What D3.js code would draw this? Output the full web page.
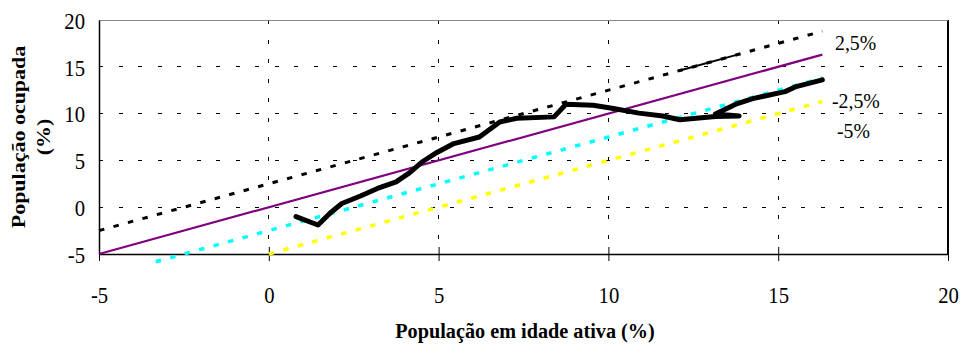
<!DOCTYPE html>
<html>
<head>
<meta charset="utf-8">
<script src="https://cdn.jsdelivr.net/npm/d3@7"></script>
<style>
  html, body { margin: 0; padding: 0; background: #fff; }
  svg { display: block; }
</style>
</head>
<body>
<svg id="chart" width="962" height="344"></svg>
<script>
// ---- Data ----
const xTicks = [-5, 0, 5, 10, 15, 20];
const yTicks = [-5, 0, 5, 10, 15, 20];

// Reference lines y = x + offset
const refLabels  = ["2,5%", "0%", "-2,5%", "-5%"];
const refOffsets = [2.5, 0, -2.5, -5];
const refStartX  = [-5, -5, -3.33, 0];
const refEndX    = [16.3, 16.3, 16.3, 16.3];
const refShowLabel = [true, false, true, true];

// Denser stretch on the 2,5% line
const denseStretchX = [12.1, 13.8];

// Observed path (população em idade ativa %, população ocupada %)
const pathX = [0.8, 1.45, 1.8, 2.15, 2.7, 3.2, 3.75, 4.15, 4.5, 4.95, 5.45, 6.2, 6.8, 7.3, 8.4, 8.75, 9.55, 10.15, 10.9, 11.6, 12.1, 13.15, 13.85, 13.15, 13.75, 14.25, 15.2, 15.5, 16.3];
const pathY = [-1.0, -1.9, -0.65, 0.4, 1.2, 2.0, 2.7, 3.7, 4.8, 5.85, 6.8, 7.5, 9.1, 9.5, 9.65, 11.0, 10.9, 10.55, 10.05, 9.75, 9.35, 9.7, 9.75, 9.95, 11.0, 11.6, 12.35, 12.85, 13.6];

const xTitle = "População em idade ativa (%)";
const yTitle = ["População ocupada", "(%)"];

// ---- Layout / styles ----
const FONT = "'Liberation Serif', 'Times New Roman', Times, serif";
const SQ = 0.9; // horizontal squeeze of the text
const TICK_FS = 23;
const plot = { left: 99, right: 948, top: 20, bottom: 254 };
const refStyles = [
  { stroke: "#000000", width: 3, dash: "5.5,9.5" },
  { stroke: "#800080", width: 2.2, dash: null },
  { stroke: "#00FFFF", width: 3.5, dash: "5.5,9.5" },
  { stroke: "#FFFF00", width: 3.5, dash: "5.5,9.5" }
];
const labelPos = [ {x: 835, y: 50}, null, {x: 832, y: 108}, {x: 837, y: 138} ];

const svg = d3.select("#chart");
const x = d3.scaleLinear().domain([-5, 20]).range([plot.left, plot.right]);
const y = d3.scaleLinear().domain([-5, 20]).range([plot.bottom, plot.top]);

// Grid lines
const grid = svg.append("g");
grid.selectAll("line.gx").data(xTicks.filter(t => t > -5 && t < 20)).enter().append("line")
  .attr("x1", d => x(d)).attr("x2", d => x(d))
  .attr("y1", plot.top).attr("y2", plot.bottom)
  .attr("stroke", "#000").attr("stroke-width", 1).attr("stroke-dasharray", "4,15.5")
  .attr("shape-rendering", "crispEdges");
grid.selectAll("line.gy").data(yTicks.filter(t => t > -5)).enter().append("line")
  .attr("x1", plot.left).attr("x2", plot.right)
  .attr("y1", d => y(d)).attr("y2", d => y(d))
  .attr("stroke", "#000").attr("stroke-width", 1).attr("stroke-dasharray", "4,15.5")
  .attr("shape-rendering", "crispEdges");

// Plot border (right and top)
svg.append("line").attr("x1", plot.right).attr("x2", plot.right).attr("y1", plot.top).attr("y2", plot.bottom)
  .attr("stroke", "#000").attr("stroke-width", 1.2).attr("shape-rendering", "crispEdges");
svg.append("line").attr("x1", plot.left).attr("x2", plot.right).attr("y1", plot.top).attr("y2", plot.top)
  .attr("stroke", "#888").attr("stroke-width", 1).attr("shape-rendering", "crispEdges");

// Axes
const fmt = d => String(d);
const xAxis = d3.axisBottom(x).tickValues(xTicks).tickSize(0).tickFormat(fmt);
const gx = svg.append("g").attr("transform", `translate(0,${plot.bottom})`).call(xAxis)
  .attr("font-family", FONT).attr("font-size", TICK_FS);
gx.select(".domain").attr("stroke", "#000").attr("stroke-width", 1.5);
gx.selectAll(".tick text").attr("font-family", FONT).attr("font-size", TICK_FS)
  .attr("x", 0).attr("y", 0).attr("dy", 0)
  .attr("transform", `translate(0,49) scale(${SQ},1)`).attr("fill", "#000");
gx.selectAll(".tick").append("line").attr("y1", -7).attr("y2", 7).attr("stroke", "#000").attr("stroke-width", 1);

const yAxis = d3.axisLeft(y).tickValues(yTicks).tickSize(0).tickFormat(fmt);
const gy = svg.append("g").attr("transform", `translate(${plot.left},0)`).call(yAxis)
  .attr("font-family", FONT).attr("font-size", TICK_FS);
gy.select(".domain").attr("stroke", "#000").attr("stroke-width", 1.5);
gy.selectAll(".tick text").attr("font-family", FONT).attr("font-size", TICK_FS)
  .attr("x", 0).attr("y", 0).attr("dy", "0.36em")
  .attr("transform", `translate(-14,0) scale(${SQ},1)`).attr("fill", "#000");

// Reference lines
const lineGen = d3.line().x(d => x(d[0])).y(d => y(d[1]));
refOffsets.forEach((off, i) => {
  const pts = [[refStartX[i], refStartX[i] + off], [refEndX[i], refEndX[i] + off]];
  const p = svg.append("path").attr("d", lineGen(pts)).attr("fill", "none")
    .attr("stroke", refStyles[i].stroke).attr("stroke-width", refStyles[i].width);
  if (refStyles[i].dash) p.attr("stroke-dasharray", refStyles[i].dash);
});
// dense stretch on 2,5% line
svg.append("path")
  .attr("d", lineGen(denseStretchX.map(v => [v, v + refOffsets[0]])))
  .attr("fill", "none").attr("stroke", "#000").attr("stroke-width", 2);

// Observed path
const obs = pathX.map((v, i) => [v, pathY[i]]);
svg.append("path").attr("d", lineGen(obs)).attr("fill", "none")
  .attr("stroke", "#000").attr("stroke-width", 5)
  .attr("stroke-linejoin", "round").attr("stroke-linecap", "round");

// Labels for reference lines
refLabels.forEach((lab, i) => {
  if (!refShowLabel[i]) return;
  svg.append("text").attr("transform", `translate(${labelPos[i].x},${labelPos[i].y}) scale(${SQ},1)`)
    .attr("font-family", FONT).attr("font-size", 22).attr("fill", "#000").text(lab);
});

// Titles
svg.append("text").attr("transform", `translate(525,338) scale(0.92,1)`)
  .attr("text-anchor", "middle").attr("font-family", FONT).attr("font-size", 22).attr("font-weight", "bold")
  .attr("fill", "#000").text(xTitle);

const yt = svg.append("text").attr("transform", `translate(25,137) scale(${SQ},1) rotate(-90)`)
  .attr("text-anchor", "middle").attr("font-family", FONT).attr("font-size", 22).attr("font-weight", "bold").attr("fill", "#000");
yt.append("tspan").attr("x", 0).attr("y", 0).text(yTitle[0]);
yt.append("tspan").attr("x", 0).attr("y", 28).text(yTitle[1]);
</script>
</body>
</html>
